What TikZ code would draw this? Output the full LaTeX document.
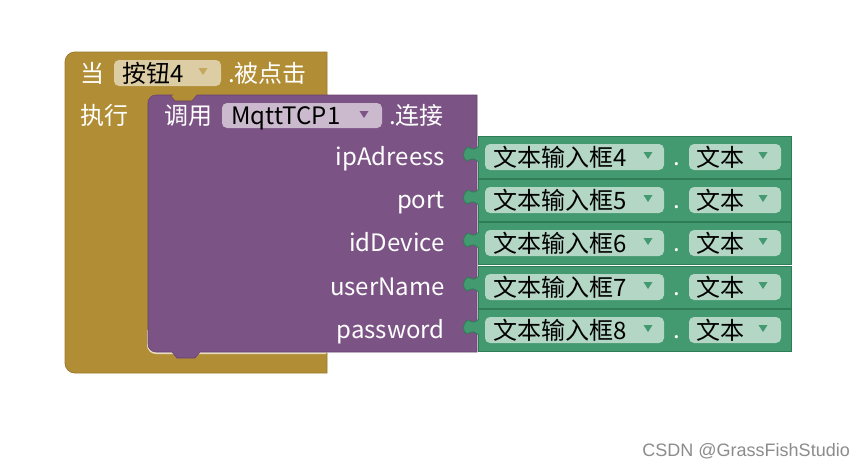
\documentclass[tikz,border=0pt]{standalone}
\usepackage{fontspec}
\setmainfont{Noto Sans CJK SC}
\newfontfamily\markfont{Liberation Sans}
\definecolor{cgold}{HTML}{B18E35}
\definecolor{cgoldline}{HTML}{9C7B2C}
\definecolor{cgoldfield}{HTML}{DDCDA4}
\definecolor{cgoldtri}{HTML}{C5A75E}
\definecolor{cpurple}{HTML}{7C5385}
\definecolor{cpurpleline}{HTML}{6A4471}
\definecolor{cpurplefield}{HTML}{CBBACE}
\definecolor{cgreen}{HTML}{439970}
\definecolor{cgreenline}{HTML}{2F7D57}
\definecolor{cgreenfield}{HTML}{B3D6C5}
\tikzset{
  lbl/.style={text=white, font=\fontsize{24}{28}\selectfont, inner sep=0pt},
  fieldtxt/.style={text=black, font=\fontsize{24}{28}\selectfont, inner sep=0pt, anchor=base west},
}
\newcommand{\dropmark}[3]{\fill[#3] (#1-4.5,#2-4) -- (#1+4.5,#2-4) -- (#1,#2+3) -- cycle;}

\begin{document}
\begin{tikzpicture}[x=1pt, y=-1pt]
  \useasboundingbox[fill=white] (0,0) rectangle (866,467);
  % event block (gold)
  \filldraw[fill=cgold, draw=cgoldline, line width=0.8pt]
    (200,373) [rounded corners=10pt] -- (65,373) -- (65,52) -- (200,52) [sharp corners]
    -- (327,52) -- (327,101) -- (148,101) [rounded corners=8pt] -- (148,353) -- (250,353)
    [sharp corners] -- (327,353) -- (327,373) -- cycle;
  \draw[white!70!cgold, line width=2pt, rounded corners=8pt] (148,330) -- (148,353) -- (326,353);
  \fill[cgoldfield, rounded corners=5pt] (114,60) rectangle (221,86);
  \node[lbl, anchor=base west] (when) at (80,82) {当};
  \node[fieldtxt] (btn) at (122,82) {按钮4};
  \dropmark{203}{72}{cgoldtri}
  \node[lbl, anchor=base west] (click) at (228,82) {.被点击};
  \node[lbl, anchor=base west] (do) at (80,124) {执行};
  % method call block (purple)
  \filldraw[fill=cpurple, draw=cpurpleline, line width=0.6pt]
    (172,352) [rounded corners=8pt] -- (148,352) -- (148,95) -- (165,95) [sharp corners]
    -- (170,95) -- (175,101) -- (192,101) -- (197,95) -- (477,95) -- (477,352)
    -- (200,352) -- (195,358) -- (177,358) -- cycle;
  \fill[cpurplefield, rounded corners=5pt] (222,103) rectangle (382,128);
  \node[lbl, anchor=base west] (call) at (164,124) {调用};
  \node[fieldtxt] (mqtt) at (231,124) {MqttTCP1};
  \dropmark{364}{115}{cpurple}
  \node[lbl, anchor=base west] (conn) at (389,124) {.连接};
  % argument rows (green)
  \foreach \c/\n/\lbl/\nm in {157/4/ipAdreess/ip, 200/5/port/port, 243/6/idDevice/dev,
                             287/7/userName/user, 330/8/password/pass} {
    \node[lbl, anchor=base east] (\nm) at (445,\c+8) {\lbl};
    \filldraw[fill=cgreen, draw=cgreenline, line width=0.8pt] (478,\c-21) rectangle (791,\c+21);
    \filldraw[fill=cgreen, draw=cgreenline, line width=0.8pt]
      (479,\c-11) .. controls (474,\c-7) .. (468,\c-10) .. controls (462,\c-6) and (462,\c+1)
      .. (467,\c+4) .. controls (473,\c+1) .. (479,\c+5);
    \fill[cgreenfield, rounded corners=5pt] (485,\c-13) rectangle (664,\c+13);
    \node[fieldtxt] (box\n) at (493,\c+9) {文本输入框\n};
    \dropmark{648}{\c-1}{cgreen}
    \node[lbl, anchor=base] (dot\n) at (677,\c+8) {.};
    \fill[cgreenfield, rounded corners=5pt] (689,\c-13) rectangle (781,\c+13);
    \node[fieldtxt] (txt\n) at (696,\c+9) {文本};
    \dropmark{763}{\c-1}{cgreen}
  }
  % watermark
  \node[font=\markfont\fontsize{18}{21}\selectfont, text=black!45, anchor=east, inner sep=0pt]
    (mark) at (850,451) {CSDN @GrassFishStudio};
\end{tikzpicture}
\end{document}
